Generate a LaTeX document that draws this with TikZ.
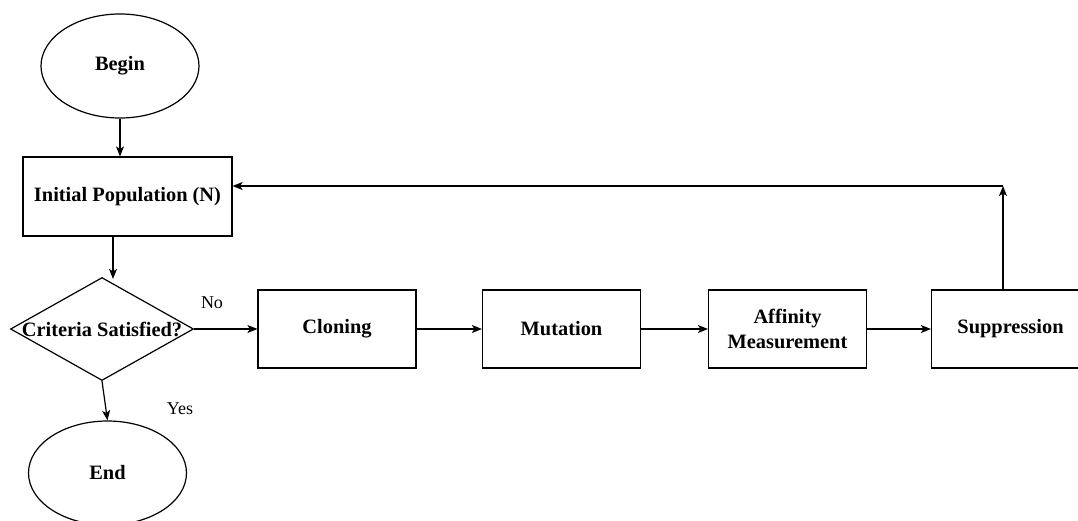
\documentclass[tikz,border=0pt]{standalone}
\usepackage{fontspec}
\setmainfont{Liberation Serif}
\usetikzlibrary{shapes.geometric,arrows.meta}
\begin{document}
\begin{tikzpicture}[x=1pt,y=-1pt,
  boldtext/.style={font=\fontsize{20.4}{25}\selectfont\bfseries},
  stepbox/.style={draw, rectangle, line width=1.2pt, minimum width=158pt,
    minimum height=78pt, inner sep=0pt, align=center, boldtext},
  terminal/.style={draw, ellipse, line width=1.2pt, minimum width=158pt,
    minimum height=104pt, inner sep=0pt, boldtext},
  decision/.style={draw, diamond, line width=1.2pt, minimum width=183pt,
    minimum height=103pt, inner sep=0pt},
  edgelabel/.style={font=\fontsize{18}{22}\selectfont, inner sep=0pt},
  flow/.style={draw, line width=1.2pt,
    -{Stealth[length=10pt,width=8pt,inset=2.5pt]}}
]
\useasboundingbox (0,0) rectangle (1078,520);
\clip (0,0) rectangle (1078,520);

% start / stop
\node[terminal] (begin) at (120,66) {Begin};
\node[terminal] (end) at (107.5,473) {End};

% initial population
\node[stepbox, minimum width=209pt, minimum height=79pt] (init) at (127.5,196.5)
  {Initial Population (N)};

% stopping test
\node[decision] (dia) at (102,329) {};
\node[boldtext, inner sep=0pt] (diatext) at (dia.center) {Criteria Satisfied?};

% main loop
\node[stepbox] (clone) at (337,329) {Cloning};
\node[stepbox] (mut) at (561.5,329) {Mutation};
\node[stepbox] (aff) at (787.5,329) {Affinity\\Measurement};
\node[stepbox] (supp) at (1010.5,329) {Suppression};

% connectors
\draw[flow] (begin.south) -- (begin.south |- init.north);
\draw[flow] ([xshift=-14.5pt]init.south) -- ([xshift=-14.5pt,yshift=-2pt]init.south |- dia.north);
\draw[flow] (dia.east) -- (clone.west);
\draw[flow] (dia.south) -- (end.north);
\draw[flow] (clone.east) -- (mut.west);
\draw[flow] (mut.east) -- (aff.west);
\draw[flow] (aff.east) -- (supp.west);

\coordinate (back) at ([xshift=-7.5pt]supp.north |- 0,186);
\draw[flow] ([xshift=-7.5pt]supp.north) -- (back);
\draw[flow] (back) -- (init.east |- back);

% branch labels
\node[edgelabel] (nolab) at (212,303) {No};
\node[edgelabel] (yeslab) at (180,409) {Yes};
\end{tikzpicture}
\end{document}
